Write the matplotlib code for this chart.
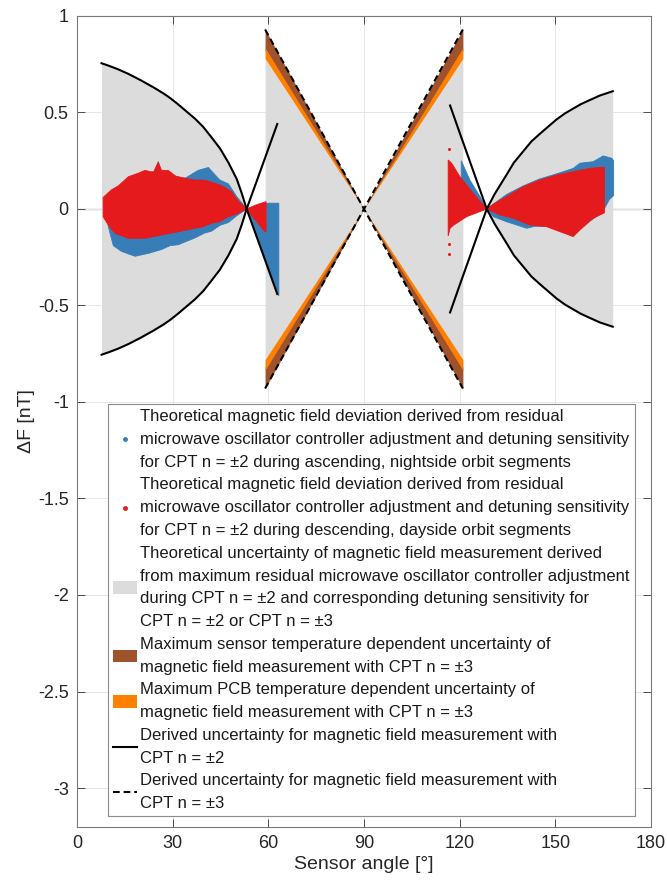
import matplotlib
matplotlib.use("Agg")
import matplotlib.pyplot as plt
from matplotlib.lines import Line2D
from matplotlib.patches import Patch
import numpy as np

plt.rcParams['font.family'] = ['Liberation Sans', 'DejaVu Sans']

# ---------------- data ----------------
# Derived uncertainty CPT n=+-2, left lobe (one branch; the other branch is its negative)
left_curve_deg = [7.7, 10.0, 13.0, 16.1, 20.0, 24.0, 27.0, 29.2, 31.5, 34.0, 37.0, 39.6, 42.0,
                  44.8, 47.5, 50.1, 51.7, 53.2, 55.5, 57.9, 60.3, 62.8]
left_curve_val = [0.755, 0.742, 0.723, 0.70, 0.667, 0.63, 0.60, 0.575, 0.545, 0.51, 0.468, 0.425, 0.375,
                  0.315, 0.24, 0.155, 0.08, 0.0, -0.105, -0.215, -0.325, -0.44]

# Derived uncertainty CPT n=+-2, right lobe
right_curve_deg = [117.0, 119.9, 122.7, 125.6, 128.5, 131.0, 134.7, 137.0, 140.0, 142.5, 145.2, 148.0,
                   150.4, 153.0, 155.6, 158.0, 160.9, 164.0, 168.0]
right_curve_val = [0.536, 0.40, 0.27, 0.135, 0.0, -0.078, -0.177, -0.24, -0.30, -0.35, -0.39, -0.43,
                   -0.464, -0.495, -0.52, -0.543, -0.565, -0.588, -0.61]

# Derived uncertainty CPT n=+-3 (centre section)
center_deg = [59.0, 90.0, 121.0]
n3_val = [0.93, 0.0, -0.93]
sensor_inner = [0.82, 0.0, 0.82]   # inner edge of sensor temperature band (magnitude)
pcb_outer = [0.835, 0.0, 0.835]    # outer edge of PCB temperature band
pcb_inner = [0.78, 0.0, 0.78]      # inner edge of PCB temperature band

# Ascending / nightside deviations (blue), envelope of the point cloud
blue_L_up_deg = [9.8, 12.0, 16.0, 20.0, 25.0, 29.0, 34.0, 38.0, 41.2, 44.8, 47.5, 50.1, 53.2, 56.0, 60.0, 63.3]
blue_L_up_val = [0.05, 0.10, 0.15, 0.17, 0.20, 0.15, 0.16, 0.20, 0.215, 0.15, 0.13, 0.064, 0.0, 0.015, 0.03, 0.03]
blue_L_lo_deg = [9.8, 11.4, 14.0, 18.2, 22.4, 26.5, 29.2, 31.8, 37.0, 40.0, 42.2, 44.8, 47.5, 50.1, 53.2, 55.5, 57.9, 60.3, 62.8, 63.3]
blue_L_lo_val = [-0.09, -0.19, -0.22, -0.245, -0.23, -0.21, -0.19, -0.185, -0.15, -0.125, -0.115, -0.085, -0.07, -0.035, 0.0, -0.105, -0.215, -0.325, -0.44, -0.45]

blue_R_up_deg = [120.5, 121.1, 123.2, 126.4, 128.5, 134.7, 140.0, 145.0, 150.0, 155.6, 157.7, 161.9, 165.0, 167.7, 168.3]
blue_R_up_val = [0.25, 0.228, 0.15, 0.064, 0.0, 0.075, 0.12, 0.155, 0.18, 0.21, 0.237, 0.245, 0.275, 0.263, 0.25]
blue_R_lo_deg = [120.5, 124.0, 128.5, 130.6, 134.7, 137.9, 141.0, 143.5, 150.0, 156.0, 160.0, 162.0, 165.0, 167.0, 168.3]
blue_R_lo_val = [-0.03, -0.02, 0.0, -0.04, -0.066, -0.083, -0.10, -0.09, -0.09, -0.10, -0.07, -0.05, -0.01, 0.05, 0.07]

# Descending / dayside deviations (red), envelope of the point cloud
red_L_up_deg = [8.2, 10.9, 13.0, 16.1, 19.2, 21.3, 24.0, 25.5, 26.5, 28.6, 31.0, 34.0, 37.0, 39.6, 41.0, 44.8, 46.5, 48.5, 50.1, 53.2, 56.0, 59.3]
red_L_up_val = [0.06, 0.10, 0.12, 0.167, 0.185, 0.20, 0.19, 0.245, 0.20, 0.20, 0.17, 0.159, 0.15, 0.15, 0.145, 0.125, 0.11, 0.09, 0.05, 0.0, 0.02, 0.038]
red_L_lo_deg = [8.2, 9.8, 11.9, 16.1, 21.3, 26.5, 29.2, 31.8, 37.0, 39.6, 42.2, 44.8, 47.5, 50.1, 53.2, 56.0, 58.5, 59.3]
red_L_lo_val = [-0.04, -0.083, -0.126, -0.152, -0.152, -0.135, -0.126, -0.118, -0.10, -0.092, -0.074, -0.066, -0.04, -0.026, 0.0, -0.06, -0.11, -0.12]

red_R_up_deg = [116.4, 117.5, 120.1, 124.3, 128.5, 131.0, 134.7, 140.0, 145.2, 150.4, 155.6, 160.9, 165.0, 165.4]
red_R_up_val = [0.254, 0.237, 0.167, 0.081, 0.0, 0.03, 0.064, 0.116, 0.15, 0.176, 0.193, 0.211, 0.216, 0.216]
red_R_lo_deg = [116.4, 117.0, 118.0, 122.2, 128.5, 132.6, 136.8, 142.0, 147.3, 151.5, 155.6, 157.7, 161.9, 165.4]
red_R_lo_val = [-0.14, -0.10, -0.085, -0.04, 0.0, -0.031, -0.048, -0.083, -0.092, -0.118, -0.143, -0.109, -0.048, -0.02]

red_out_deg = [116.6, 116.6, 116.6]
red_out_val = [0.31, -0.18, -0.235]

x_ticks = [0, 30, 60, 90, 120, 150, 180]
y_ticks = [-3, -2.5, -2, -1.5, -1, -0.5, 0, 0.5, 1]
y_tick_labels = ['-3', '-2.5', '-2', '-1.5', '-1', '-0.5', '0', '0.5', '1']

labels = [
    "Theoretical magnetic field deviation derived from residual\nmicrowave oscillator controller adjustment and detuning sensitivity\nfor CPT n = \u00b12 during ascending, nightside orbit segments",
    "Theoretical magnetic field deviation derived from residual\nmicrowave oscillator controller adjustment and detuning sensitivity\nfor CPT n = \u00b12 during descending, dayside orbit segments",
    "Theoretical uncertainty of magnetic field measurement derived\nfrom maximum residual microwave oscillator controller adjustment\nduring CPT n = \u00b12 and corresponding detuning sensitivity for\nCPT n = \u00b12 or CPT n = \u00b13",
    "Maximum sensor temperature dependent uncertainty of\nmagnetic field measurement with CPT n = \u00b13",
    "Maximum PCB temperature dependent uncertainty of\nmagnetic field measurement with CPT n = \u00b13",
    "Derived uncertainty for magnetic field measurement with\nCPT n = \u00b12",
    "Derived uncertainty for magnetic field measurement with\nCPT n = \u00b13",
]

# colours
C_GRAY = '#dcdcdc'
C_BROWN = '#a0522d'
C_ORANGE = '#ff8000'
C_BLUE = '#377eb8'
C_RED = '#e41a1c'
DASH = (0, (3.2, 1.9))

# ---------------- figure ----------------
fig = plt.figure(figsize=(6.67, 8.82), dpi=100)
ax = fig.add_axes([0.1154, 0.0628, 0.8606, 0.9191])

ax.axhline(0, color='#8c8c8c', lw=0.9, zorder=0.5)

lcd = np.array(left_curve_deg); lcv = np.array(left_curve_val)
rcd = np.array(right_curve_deg); rcv = np.array(right_curve_val)
cd = np.array(center_deg); n3 = np.array(n3_val)

# gray uncertainty regions
mL = lcd <= 53.2
ax.fill_between(lcd[mL], -lcv[mL], lcv[mL], color=C_GRAY, lw=0, zorder=1)
mR = rcd >= 128.5
ax.fill_between(rcd[mR], rcv[mR], -rcv[mR], color=C_GRAY, lw=0, zorder=1)
ax.fill_between(cd, -np.abs(n3), np.abs(n3), color=C_GRAY, lw=0, zorder=1)

# temperature bands (upper and lower)
for s in (1, -1):
    ax.fill_between(cd, s * np.array(sensor_inner), s * np.abs(n3), color=C_BROWN, lw=0, zorder=2)
    ax.fill_between(cd, s * np.array(pcb_inner), s * np.array(pcb_outer), color=C_ORANGE, lw=0, zorder=2.1)

# point clouds (envelopes)
ax.fill(blue_L_up_deg + blue_L_lo_deg[::-1], blue_L_up_val + blue_L_lo_val[::-1], color=C_BLUE, lw=0.6, ec=C_BLUE, zorder=3)
ax.fill(blue_R_up_deg + blue_R_lo_deg[::-1], blue_R_up_val + blue_R_lo_val[::-1], color=C_BLUE, lw=0.6, ec=C_BLUE, zorder=3)
ax.fill(red_L_up_deg + red_L_lo_deg[::-1], red_L_up_val + red_L_lo_val[::-1], color=C_RED, lw=0.6, ec=C_RED, zorder=3.1)
ax.fill(red_R_up_deg + red_R_lo_deg[::-1], red_R_up_val + red_R_lo_val[::-1], color=C_RED, lw=0.6, ec=C_RED, zorder=3.1)
ax.plot(red_out_deg, red_out_val, 'o', color=C_RED, ms=2.2, mew=0, zorder=3.1)

# derived uncertainty lines
LW = 1.5
ax.plot(lcd, lcv, color='black', lw=LW, zorder=4)
ax.plot(lcd, -lcv, color='black', lw=LW, zorder=4)
ax.plot(rcd, rcv, color='black', lw=LW, zorder=4)
ax.plot(rcd, -rcv, color='black', lw=LW, zorder=4)
ax.plot(cd, n3, color='black', lw=LW, ls=DASH, zorder=4)
ax.plot(cd, -n3, color='black', lw=LW, ls=DASH, zorder=4)

# axes styling
ax.set_xlim(0, 180)
ax.set_ylim(-3.2, 1)
ax.set_xticks(x_ticks)
ax.set_yticks(y_ticks)
ax.set_yticklabels(y_tick_labels)
ax.tick_params(direction='in', top=True, right=True, length=6, width=0.7,
               color='#4d4d4d', labelsize=13, labelcolor='#262626', pad=6)
for sp in ax.spines.values():
    sp.set_color('#7a7a7a')
    sp.set_linewidth(0.8)
ax.grid(True, color='#e6e6e6', lw=0.7)
ax.set_axisbelow(True)
ax.set_xlabel('Sensor angle [\u00b0]', fontsize=14, color='#262626', labelpad=3)
ax.set_ylabel('\u0394F [nT]', fontsize=14, color='#262626', labelpad=2)

handles = [
    Line2D([], [], ls='none', marker='o', ms=3.5, color=C_BLUE, mew=0),
    Line2D([], [], ls='none', marker='o', ms=3.5, color=C_RED, mew=0),
    Patch(facecolor=C_GRAY, edgecolor='none'),
    Patch(facecolor=C_BROWN, edgecolor='none'),
    Patch(facecolor=C_ORANGE, edgecolor='none'),
    Line2D([], [], color='black', lw=LW),
    Line2D([], [], color='black', lw=LW, ls=DASH),
]
leg = ax.legend(handles, labels, loc='lower left', bbox_to_anchor=(0.054, 0.013),
                fontsize=12, frameon=True, fancybox=False, framealpha=1,
                edgecolor='#8c8c8c', borderpad=0.3, labelspacing=0.45,
                handlelength=1.45, handleheight=0.8, handletextpad=0.2,
                borderaxespad=0)
leg.get_frame().set_linewidth(0.8)
leg.set_zorder(10)
for t in leg.get_texts():
    t.set_linespacing(1.66)
    t.set_color('#1a1a1a')

fig.savefig('out.png', dpi=100)
